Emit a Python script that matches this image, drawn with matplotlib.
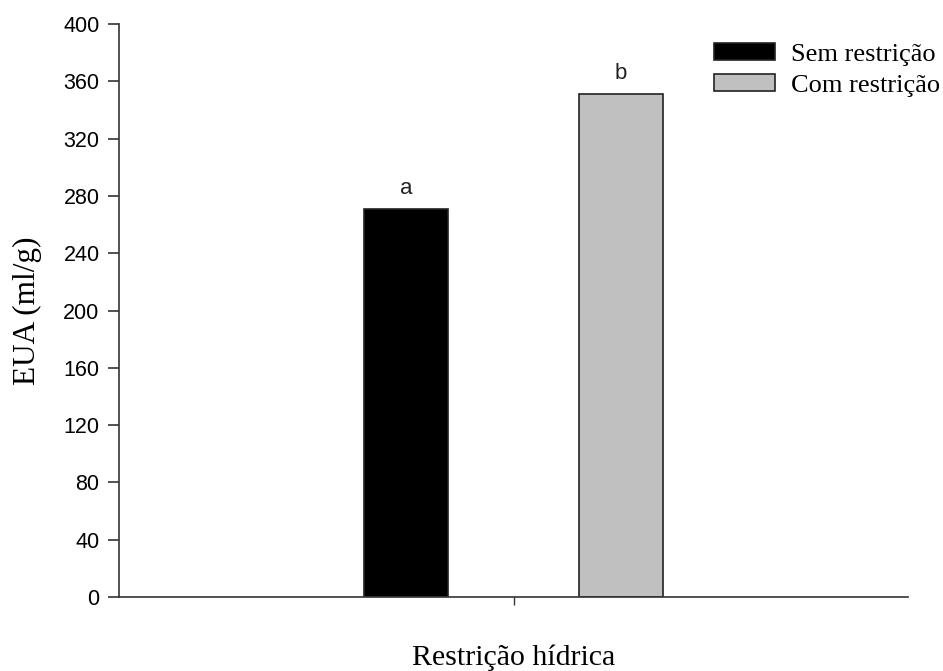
import numpy as np
import matplotlib.pyplot as plt

categories = ["Sem restrição", "Com restrição"]
values = [271, 351]
letters = ["a", "b"]
colors = ["black", "#c0c0c0"]
xlabel = "Restrição hídrica"
ylabel = "EUA (ml/g)"

fig = plt.figure(figsize=(9.43, 6.71), dpi=100)
ax = fig.add_axes([0.1262, 0.1103, 0.8367, 0.8539])

offsets = [-0.2725, 0.2725]
width = 0.215
for off, v, c, lab, let in zip(offsets, values, colors, categories, letters):
    ax.bar(off, v, width=width, color=c, edgecolor="#222222", linewidth=1.2, label=lab)
    ax.text(off, v + 7, let, ha="center", va="bottom", fontsize=16,
            family="Liberation Sans", color="#222222")

ax.set_xlim(-1, 1)
ax.set_ylim(0, 400)
ax.set_yticks(np.arange(0, 401, 40))
ax.set_xticks([0])
ax.set_xticklabels([""])

for s in ["top", "right"]:
    ax.spines[s].set_visible(False)
for s in ["left", "bottom"]:
    ax.spines[s].set_color("#333333")
    ax.spines[s].set_linewidth(1.2)
ax.tick_params(axis="y", direction="out", length=8, width=1.2, color="#333333",
               labelsize=15.5, pad=6)
ax.tick_params(axis="x", direction="out", length=6, width=1, color="#333333")
for t in ax.get_yticklabels():
    t.set_family("Liberation Sans")

ax.set_xlabel(xlabel, family="Liberation Serif", fontsize=21.5, labelpad=25)
ax.set_ylabel(ylabel, family="Liberation Serif", fontsize=22.5, labelpad=15)

leg = fig.legend(loc="upper left", bbox_to_anchor=(714 / 943, 1 - 43 / 671), frameon=False,
                 prop={"family": "Liberation Serif", "size": 19},
                 handlelength=2.3, handleheight=0.6, handletextpad=0.6,
                 labelspacing=0.32, borderpad=0, borderaxespad=0)

plt.savefig("out.png", dpi=100)
